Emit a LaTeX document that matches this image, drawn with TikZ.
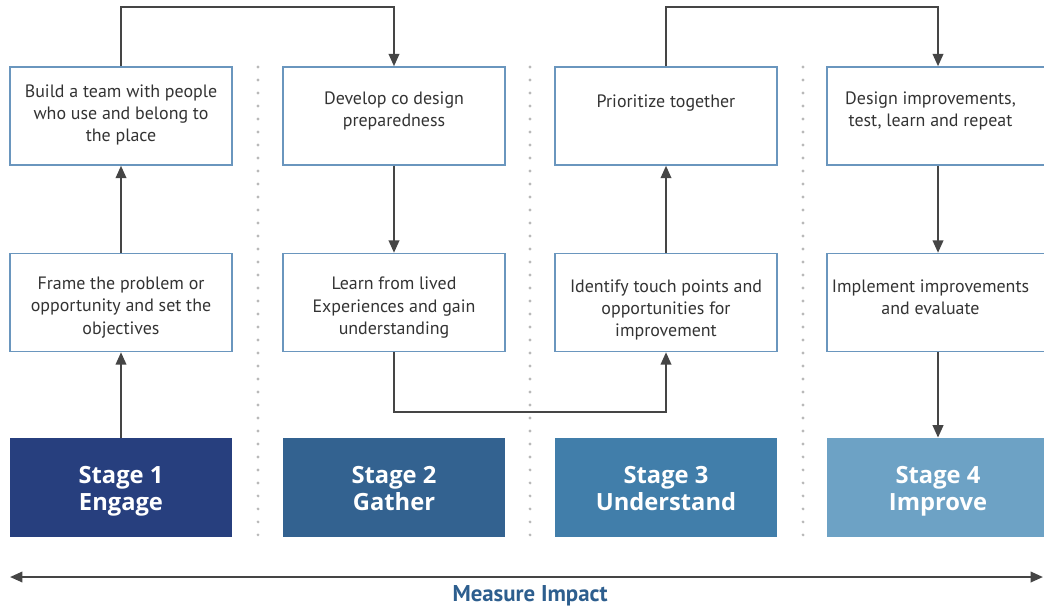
\documentclass[tikz,border=0pt]{standalone}
\usepackage{fontspec}
\setmainfont{PT Sans}
\newfontfamily\stagefont{Open Sans}
\usetikzlibrary{arrows.meta}

\definecolor{boxline}{HTML}{6A96BE}
\definecolor{linegray}{HTML}{454545}
\definecolor{stageA}{HTML}{273F7E}
\definecolor{stageB}{HTML}{336290}
\definecolor{stageC}{HTML}{417EAA}
\definecolor{stageD}{HTML}{6DA2C5}
\definecolor{impact}{HTML}{2D5E8E}
\definecolor{txtgray}{HTML}{333333}

% text kept at the top of a box
\newcommand{\boxtxt}[2][10pt]{\parbox[c][1.96cm][t]{4.3cm}{\centering\vspace*{#1}#2}}
\newcommand{\stagetxt}[2]{\rule{0pt}{15.5pt}#1\\#2\strut}

\tikzset{
  stepbox/.style={draw=boxline, line width=0.8pt, minimum width=4.44cm, minimum height=1.96cm,
    inner sep=0pt, text=txtgray, font=\fontsize{10.2}{12.6}\selectfont},
  stagebox/.style={minimum width=4.44cm, minimum height=1.98cm, inner sep=0pt, text=white,
    align=center, font=\stagefont\fontsize{13.5}{15.8}\selectfont\bfseries},
  flow/.style={draw=linegray, line width=1.3pt, -{Triangle[length=2.5mm,width=2.1mm]}},
  sep/.style={gray!55, line width=1.8pt, line cap=round, dash pattern=on 0pt off 0.26cm},
}

\begin{document}
\begin{tikzpicture}[x=0.02cm, y=-0.02cm]
\useasboundingbox (0,0) rectangle (1044,610);

\foreach \x in {258,530,803} \draw[sep] (\x,67) -- (\x,537); %dotted separators

\node[stepbox] (build) at (121,116) {\boxtxt[10pt]{Build a team with people\\who use and belong to\\the place}};
\node[stepbox] (develop) at (394,116) {\boxtxt[14pt]{Develop co design\\preparedness}};
\node[stepbox] (prior) at (666,116) {\boxtxt[16pt]{Prioritize together}};
\node[stepbox] (designimp) at (938,116) {\boxtxt[14pt]{\hspace*{-0.3cm}Design improvements,\\\hspace*{-0.3cm}test, learn and repeat}};

\node[stepbox] (frame) at (121,302.5) {\boxtxt[13.5pt]{Frame the problem or\\opportunity and set the\\objectives}};
\node[stepbox] (learn) at (394,302.5) {\boxtxt[13.5pt]{Learn from lived\\Experiences and gain\\understanding}};
\node[stepbox] (identify) at (666,302.5) {\boxtxt[15pt]{Identify touch points and\\opportunities for\\improvement}};
\node[stepbox] (implement) at (938,302.5) {\boxtxt[15pt]{\hspace*{-0.3cm}Implement improvements\\\hspace*{-0.3cm}and evaluate}};

\node[stagebox, fill=stageA] (stage1) at (121,487.5) {\stagetxt{Stage 1}{Engage}};
\node[stagebox, fill=stageB] (stage2) at (394,487.5) {\stagetxt{Stage 2}{Gather}};
\node[stagebox, fill=stageC] (stage3) at (666,487.5) {\stagetxt{Stage 3}{Understand}};
\node[stagebox, fill=stageD] (stage4) at (938,487.5) {\stagetxt{Stage 4}{Improve}};

\draw[flow] (stage1) -- (frame);
\draw[flow] (frame) -- (build);
\draw[flow] (build.north) -- ++(0,-59) -| (develop.north);
\draw[flow] (develop) -- (learn);
\draw[flow] (learn.south) -- ++(0,60) -| (identify.south);
\draw[flow] (identify) -- (prior);
\draw[flow] (prior.north) -- ++(0,-59) -| (designimp.north);
\draw[flow] (designimp) -- (implement);
\draw[flow] (implement) -- (stage4);

\coordinate (mleft) at (10,577);
\coordinate (mright) at (1043,577);
\draw[flow, {Triangle[length=2.5mm,width=2.1mm]}-{Triangle[length=2.5mm,width=2.1mm]}] (mleft) -- (mright); %measure axis
\node[text=impact, font=\fontsize{13}{15}\selectfont\bfseries] (impact) at (530,596) {Measure Impact};
\end{tikzpicture}
\end{document}
